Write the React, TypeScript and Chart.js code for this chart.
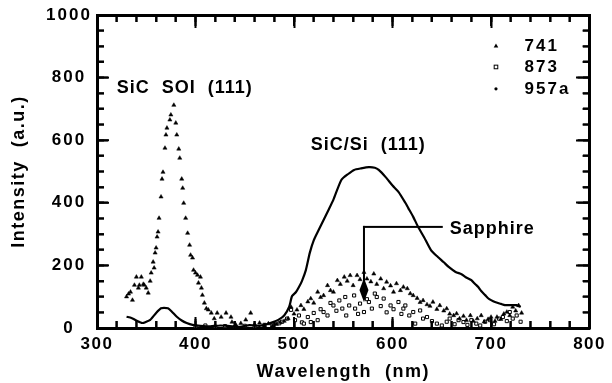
import React, { useEffect, useRef } from "react";
import { Chart, registerables } from "chart.js";

Chart.register(...registerables);

const FONT = "'Liberation Sans', Arial, Helvetica, sans-serif";

// axis configuration
const xMin = 300;
const xMax = 800;
const xMajor = 100;
const xMinor = 20;
const yMin = 0;
const yMax = 1000;
const yMajor = 200;
const yMinor = 50;

// series 741 (filled triangles)
const s741X = [330, 332, 334, 336, 338, 340, 342, 343, 345, 347, 348, 350, 352, 354, 355, 357, 358, 359, 360, 361, 362, 363, 365, 366, 367, 369, 370, 371, 374, 375, 378, 380, 381, 383, 384, 386, 387, 388, 390, 392, 394, 395, 397, 398, 400, 402, 403, 405, 406, 407, 409, 411, 413, 416, 419, 422, 426, 431, 436, 437, 441, 446, 451, 456, 460, 465, 470, 474, 478, 482, 486, 490, 494, 497, 500, 503, 507, 510, 514, 517, 520, 524, 527, 530, 534, 537, 540, 544, 547, 551, 554, 557, 560, 564, 567, 571, 574, 578, 581, 584, 588, 591, 594, 598, 601, 604, 608, 611, 615, 618, 621, 625, 628, 631, 635, 638, 641, 645, 648, 652, 655, 658, 662, 665, 668, 672, 675, 679, 682, 686, 690, 693, 697, 700, 704, 706, 710, 713, 716, 719, 722, 725, 728, 731];
const s741Y = [100, 109, 115, 89, 137, 163, 128, 137, 163, 140, 137, 128, 112, 150, 176, 211, 192, 240, 256, 291, 307, 351, 419, 476, 498, 575, 617, 639, 665, 681, 712, 655, 617, 572, 543, 476, 447, 399, 351, 303, 265, 233, 224, 185, 176, 169, 144, 163, 128, 105, 80, 62, 58, 48, 30, 48, 35, 48, 35, 19, 10, 15, 26, 48, 12, 16, 8, 14, 6, 12, 18, 22, 30, 67, 45, 58, 72, 60, 84, 94, 80, 115, 98, 104, 136, 120, 115, 152, 140, 163, 150, 168, 136, 168, 155, 178, 157, 148, 173, 140, 157, 126, 147, 135, 115, 142, 120, 131, 126, 110, 104, 95, 82, 88, 75, 70, 83, 60, 72, 55, 62, 45, 40, 46, 30, 38, 25, 40, 22, 30, 40, 20, 28, 35, 22, 35, 28, 45, 51, 40, 67, 55, 72, 48];

// series 873 (open squares)
const s873X = [400, 410, 420, 430, 440, 450, 460, 470, 478, 485, 488, 493, 497, 501, 505, 508, 510, 514, 517, 520, 524, 527, 530, 534, 537, 540, 543, 546, 549, 552, 553, 556, 561, 562, 565, 567, 571, 574, 576, 579, 582, 584, 588, 591, 594, 598, 601, 606, 609, 611, 613, 617, 621, 623, 628, 631, 635, 640, 645, 650, 655, 658, 663, 667, 672, 676, 680, 685, 689, 694, 699, 703, 708, 712, 716, 719, 722, 726, 730];
const s873Y = [5, 8, 4, 6, 3, 7, 5, 10, 8, 15, 20, 30, 58, 25, 40, 18, 14, 35, 19, 48, 25, 60, 51, 40, 80, 72, 55, 88, 62, 99, 40, 72, 104, 62, 45, 78, 51, 92, 83, 62, 110, 99, 70, 94, 50, 72, 60, 83, 45, 62, 72, 40, 51, 14, 56, 30, 35, 22, 14, 8, 20, 30, 12, 25, 19, 10, 25, 14, 8, 20, 25, 12, 30, 35, 22, 51, 30, 40, 20];

// series 957a (dense dots forming a line)
const s957X = [330, 335, 340, 346, 350, 354, 360, 365, 368, 372, 376, 381, 386, 391, 397, 405, 415, 425, 435, 445, 455, 465, 472, 478, 484, 490, 495, 498, 502, 505, 508, 512, 516, 520, 525, 530, 535, 540, 548, 555, 561, 568, 576, 582, 586, 593, 600, 606, 613, 616, 621, 626, 632, 639, 646, 652, 657, 664, 670, 674, 677, 680, 684, 687, 690, 694, 697, 700, 704, 710, 714, 717, 722, 726, 730];
const s957Y = [36, 32, 24, 16, 20, 26, 48, 63, 64, 63, 52, 36, 24, 16, 10, 7, 5, 8, 6, 4, 9, 7, 12, 18, 26, 40, 67, 102, 115, 131, 150, 185, 240, 280, 313, 345, 377, 410, 473, 492, 505, 510, 514, 512, 505, 482, 455, 435, 400, 383, 355, 323, 290, 249, 227, 210, 195, 179, 172, 163, 158, 153, 140, 131, 118, 105, 95, 89, 83, 77, 73, 73, 73, 73, 67];

// legend
const seriesNames = ["741", "873", "957a"];
const legendMarkX = 705;
const legendTextX = 734;
const legendY = [901, 834, 764];

// annotations (data coordinates)
const noteTexts = ["SiC  SOI  (111)", "SiC/Si  (111)", "Sapphire"];
const noteX = [320, 517, 658];
const noteY = [767, 585, 316];
const arrowX = 571;
const arrowTopY = 323;
const arrowTipY = 83;
const arrowLineEndX = 651;

const toPts = (xs: number[], ys: number[]) => xs.map((x, i) => ({ x, y: ys[i] }));

function drawAll(chart: any) {
  const ctx = chart.ctx;
  const x = chart.scales.x;
  const y = chart.scales.y;
  ctx.save();
  ctx.fillStyle = "#000";
  ctx.strokeStyle = "#000";

  // y tick labels from the axis ticks, centred
  ctx.letterSpacing = "2px";
  ctx.font = `bold 17px ${FONT}`;
  ctx.textAlign = "center";
  ctx.textBaseline = "middle";
  y.ticks.forEach((t: any) => {
    ctx.fillText(String(t.value), 69, y.getPixelForValue(t.value));
  });

  // annotation texts
  ctx.letterSpacing = "1px";
  ctx.font = `bold 18px ${FONT}`;
  ctx.textAlign = "left";
  noteTexts.forEach((t, i) => {
    ctx.fillText(t, x.getPixelForValue(noteX[i]), y.getPixelForValue(noteY[i]));
  });

  // Sapphire arrow
  const ax = x.getPixelForValue(arrowX);
  const ay = y.getPixelForValue(arrowTopY);
  const tip = y.getPixelForValue(arrowTipY);
  const lx = x.getPixelForValue(arrowLineEndX);
  ctx.fillRect(ax - 1, ay - 1, lx - ax + 1, 2);
  ctx.fillRect(ax - 1, ay - 1, 2, tip - 10 - ay);
  ctx.beginPath();
  ctx.moveTo(ax, tip - 24);
  ctx.lineTo(ax + 4.5, tip - 12);
  ctx.lineTo(ax, tip);
  ctx.lineTo(ax - 4.5, tip - 12);
  ctx.closePath();
  ctx.fill();

  // legend
  ctx.font = `bold 17px ${FONT}`;
  ctx.letterSpacing = "2px";
  seriesNames.forEach((n, i) => {
    const mx = x.getPixelForValue(legendMarkX);
    const my = y.getPixelForValue(legendY[i]);
    ctx.lineWidth = 1;
    if (i === 0) {
      ctx.beginPath();
      ctx.moveTo(mx, my - 2.5);
      ctx.lineTo(mx + 2.3, my + 1.5);
      ctx.lineTo(mx - 2.3, my + 1.5);
      ctx.closePath();
      ctx.fill();
    } else if (i === 1) {
      ctx.strokeRect(mx - 1.8, my - 1.8, 3.6, 3.6);
    } else {
      ctx.beginPath();
      ctx.arc(mx, my, 1.6, 0, Math.PI * 2);
      ctx.fill();
    }
    ctx.fillText(n, x.getPixelForValue(legendTextX), my);
  });

  // inward ticks from the axis scales (drawn last)
  const L0 = x.getPixelForValue(xMin);
  const R0 = x.getPixelForValue(xMax);
  const T0 = y.getPixelForValue(yMax);
  const B0 = y.getPixelForValue(yMin);
  ctx.fillStyle = "#000";
  for (let v = xMin; v <= xMax; v += xMinor) {
    const px = x.getPixelForValue(v);
    const len = v % xMajor === 0 ? 11 : 7;
    ctx.fillRect(px - 1, B0 - len, 2, len);
    ctx.fillRect(px - 1, T0, 2, len);
  }
  for (let v = yMin; v <= yMax; v += yMinor) {
    const py = y.getPixelForValue(v);
    const len = v % yMajor === 0 ? 12 : 7;
    ctx.fillRect(L0, py - 1, len, 2);
    ctx.fillRect(R0 - len, py - 1, len, 2);
  }
  ctx.restore();
}

const decorPlugin = {
  id: "decor",
  beforeUpdate(chart: any) {
    chart.ctx.letterSpacing = "1.5px";
  },
  beforeDraw(chart: any) {
    chart.ctx.letterSpacing = "1.5px";
  },
  afterDraw(chart: any) {
    drawAll(chart);
  },
};

// an unlabeled axis placed on a side of the frame, with inward tick marks
const frameAxis = (axis: string, position: any, min: number, max: number, step: number, len: number, border: boolean) => ({
  type: "linear",
  axis,
  position,
  min,
  max,
  ticks: { display: false, stepSize: step },
  grid: { display: true, drawOnChartArea: false, drawTicks: true, tickLength: len, tickColor: "#000", tickWidth: 2, color: "#000" },
  border: { display: border, color: "#000", width: 3 },
  afterFit: (s: any) => {
    if (axis === "x") s.height = 0;
    else s.width = 0;
  },
});

export default function App() {
  const ref = useRef<HTMLCanvasElement | null>(null);
  useEffect(() => {
    if (!ref.current) return;
    const tickFont = { family: FONT, size: 17, weight: "bold" as const };
    const titleFont = { family: FONT, size: 18, weight: "bold" as const };
    const chart = new Chart(ref.current, {
      type: "scatter",
      data: {
        datasets: [
          {
            label: "957a",
            data: toPts(s957X, s957Y),
            showLine: true,
            borderColor: "#000",
            borderWidth: 2.2,
            pointRadius: 0,
            tension: 0.2,
            fill: false,
          } as any,
          {
            label: "741",
            data: toPts(s741X, s741Y),
            pointStyle: "triangle",
            pointRadius: 2.4,
            backgroundColor: "#000",
            borderColor: "#000",
            borderWidth: 0.5,
          },
          {
            label: "873",
            data: toPts(s873X, s873Y),
            pointStyle: "rect",
            pointRadius: 2.2,
            backgroundColor: "#fff",
            borderColor: "#000",
            borderWidth: 1,
          },
        ],
      },
      options: {
        animation: false,
        responsive: true,
        maintainAspectRatio: false,
        layout: { padding: { left: 0, top: 15, right: 20, bottom: 0 } },
        plugins: { legend: { display: false }, tooltip: { enabled: false } },
        scales: {
          x: {
            type: "linear",
            position: "bottom",
            min: xMin,
            max: xMax,
            grid: { display: false, drawTicks: false },
            border: { display: true, color: "#000", width: 3 },
            ticks: {
              stepSize: xMajor,
              font: tickFont,
              color: "#000",
              padding: 6,
              maxRotation: 0,
              callback: (v: any) => String(v),
            },
            title: { display: true, text: "Wavelength  (nm)", font: titleFont, color: "#000", padding: 0 },
            afterFit: (s: any) => {
              s.height = 55;
            },
          },
          y: {
            type: "linear",
            position: "left",
            min: yMin,
            max: yMax,
            grid: { display: false, drawTicks: false },
            border: { display: true, color: "#000", width: 3 },
            ticks: { stepSize: yMajor, display: false },
            title: { display: true, text: "Intensity  (a.u.)", font: titleFont, color: "#000", padding: 8 },
            afterFit: (s: any) => {
              s.width = 97;
            },
          },
          xt: frameAxis("x", { y: yMax }, xMin, xMax, xMajor, 11, true),
          xtm: frameAxis("x", { y: yMax }, xMin, xMax, xMinor, 7, false),
          xb: frameAxis("x", { y: yMin }, xMin, xMax, xMajor, -11, true),
          xbm: frameAxis("x", { y: yMin }, xMin, xMax, xMinor, -7, false),
          yr: frameAxis("y", { x: xMax }, yMin, yMax, yMajor, 12, true),
          yrm: frameAxis("y", { x: xMax }, yMin, yMax, yMinor, 7, false),
          yl: frameAxis("y", { x: xMin }, yMin, yMax, yMajor, -12, true),
          ylm: frameAxis("y", { x: xMin }, yMin, yMax, yMinor, -7, false),
        } as any,
      },
      plugins: [decorPlugin],
    });
    return () => chart.destroy();
  }, []);
  return (
    <div style={{ position: "absolute", left: 0, top: 0, width: 612, height: 383, background: "#fff" }}>
      <canvas ref={ref} style={{ width: 612, height: 383 }} />
    </div>
  );
}
